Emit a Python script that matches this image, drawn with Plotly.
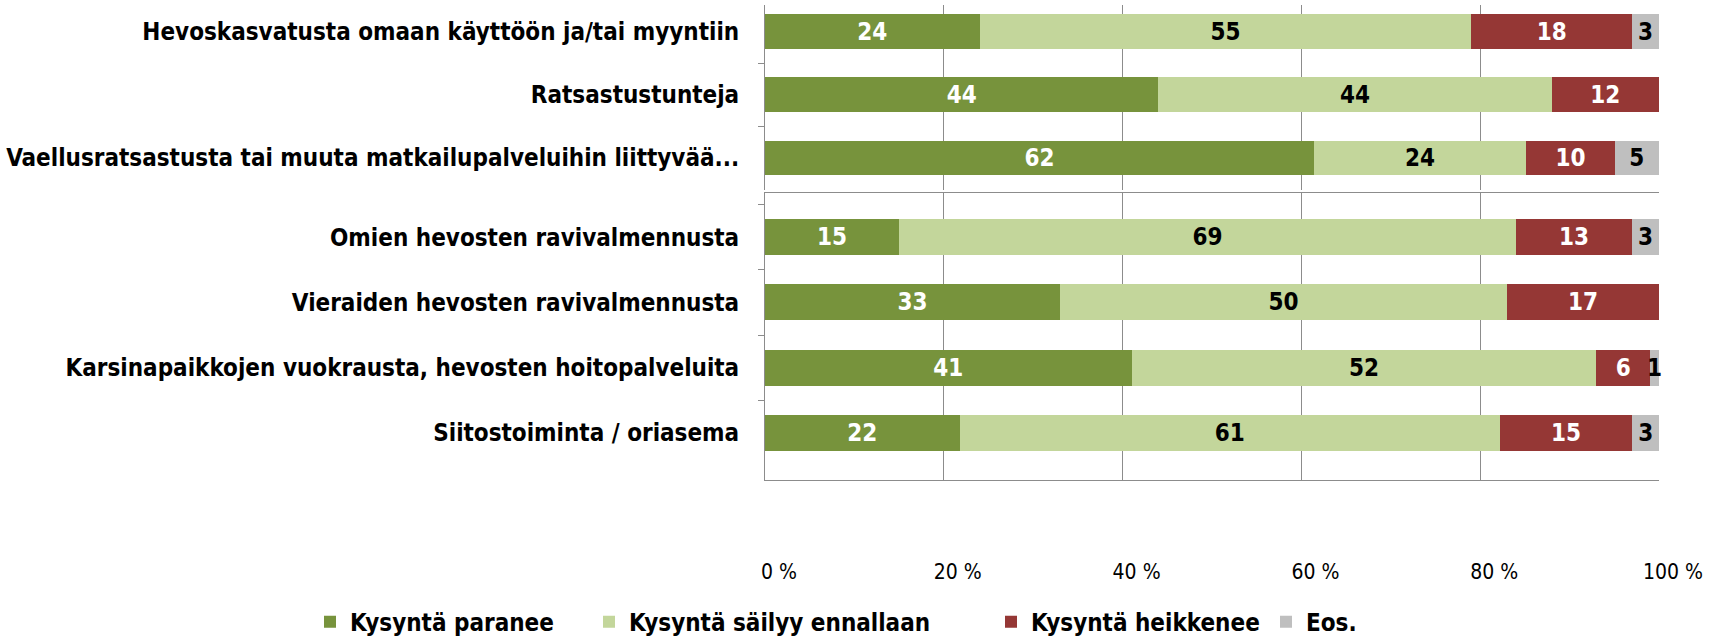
import plotly.graph_objects as go

# ---------------- data ----------------
categories_top = [
    "Hevoskasvatusta omaan käyttöön ja/tai myyntiin",
    "Ratsastustunteja",
    "Vaellusratsastusta tai muuta matkailupalveluihin liittyvää...",
]
categories_bottom = [
    "Omien hevosten ravivalmennusta",
    "Vieraiden hevosten ravivalmennusta",
    "Karsinapaikkojen vuokrausta, hevosten hoitopalveluita",
    "Siitostoiminta / oriasema",
]
series_names = ["Kysyntä paranee", "Kysyntä säilyy ennallaan", "Kysyntä heikkenee", "Eos."]
paranee_top = [24, 44, 62]
sailyy_top = [55, 44, 24]
heikkenee_top = [18, 12, 10]
eos_top = [3, 0, 5]
paranee_bottom = [15, 33, 41, 22]
sailyy_bottom = [69, 50, 52, 61]
heikkenee_bottom = [13, 17, 6, 15]
eos_bottom = [3, 0, 1, 3]
x_tick_vals = [0, 20, 40, 60, 80, 100]
x_tick_labels = ["0 %", "20 %", "40 %", "60 %", "80 %", "100 %"]

# ---------------- style ----------------
colors = ["#77933C", "#C3D69B", "#953735", "#BFBFBF"]
text_colors = ["white", "black", "white", "black"]
FONT = "Liberation Sans Narrow, Arial Narrow, DejaVu Sans Condensed, sans-serif"
GRID = "#8C8C8C"
legend_ids = ["legend", "legend2", "legend3", "legend4"]
legend_x = [310, 589, 991, 1266]  # left edge of each legend box, px in container

fig = go.Figure()

top_series = [paranee_top, sailyy_top, heikkenee_top, eos_top]
bottom_series = [paranee_bottom, sailyy_bottom, heikkenee_bottom, eos_bottom]

for i, name in enumerate(series_names):
    for cats, vals, xa, ya, show in [
        (categories_top, top_series[i], "x2", "y2", True),
        (categories_bottom, bottom_series[i], "x", "y", False),
    ]:
        fig.add_trace(go.Bar(
            y=cats, x=vals, orientation="h", name=name,
            marker=dict(color=colors[i], line=dict(width=0)),
            text=[str(v) if v else "" for v in vals],
            textposition="inside", insidetextanchor="middle", textangle=0,
            textfont=dict(family=FONT, size=24, color=text_colors[i], weight="bold"),
            width=0.55, xaxis=xa, yaxis=ya, showlegend=show,
            legend=legend_ids[i], legendgroup=name, cliponaxis=False,
        ))

xcommon = dict(
    range=[0, 100], tickvals=x_tick_vals, ticktext=x_tick_labels,
    showgrid=True, gridcolor=GRID, gridwidth=1, zeroline=False,
    linecolor=GRID, linewidth=1, fixedrange=True, automargin=False,
)
ycommon = dict(
    type="category", showgrid=False, zeroline=False,
    showline=True, linecolor=GRID, linewidth=1,
    ticks="outside", tickson="boundaries", ticklen=6, tickcolor=GRID,
    tickfont=dict(family=FONT, size=24, color="black", weight="bold"),
    ticklabelstandoff=20, autorange=False, automargin=False,
)

legend_common = dict(
    orientation="h", xref="container", yref="container",
    xanchor="left", y=0.025, yanchor="middle",
    font=dict(family=FONT, size=24, color="black", weight="bold"),
    itemclick=False, bgcolor="rgba(0,0,0,0)",
)

fig.update_layout(
    width=1725, height=638,
    margin=dict(l=765, r=66, t=5, b=158),
    paper_bgcolor="white", plot_bgcolor="white",
    barmode="stack", barnorm="percent",
    uniformtext=dict(minsize=24, mode="show"),
    xaxis=dict(**xcommon, anchor="y", showline=True, mirror=True,
               tickfont=dict(family=FONT, size=21, color="black"),
               ticks="", ticklabelstandoff=73, ticklabelshift=14),
    xaxis2=dict(**xcommon, anchor="y2", matches="x", showticklabels=False,
                showline=False, ticks=""),
    yaxis=dict(**ycommon, domain=[0, 0.604], range=[3.72, -0.675],
               categoryorder="array", categoryarray=categories_bottom),
    yaxis2=dict(**ycommon, domain=[0.6105, 1], range=[2.506, -0.419],
                categoryorder="array", categoryarray=categories_top),
)
for lid, lx in zip(legend_ids, legend_x):
    fig.update_layout({lid: dict(**legend_common, x=lx / 1725)})

fig.write_html(
    "out.html",
    config={"displayModeBar": False},
    post_script="document.body.style.margin='0';document.body.style.overflow='hidden';",
)
